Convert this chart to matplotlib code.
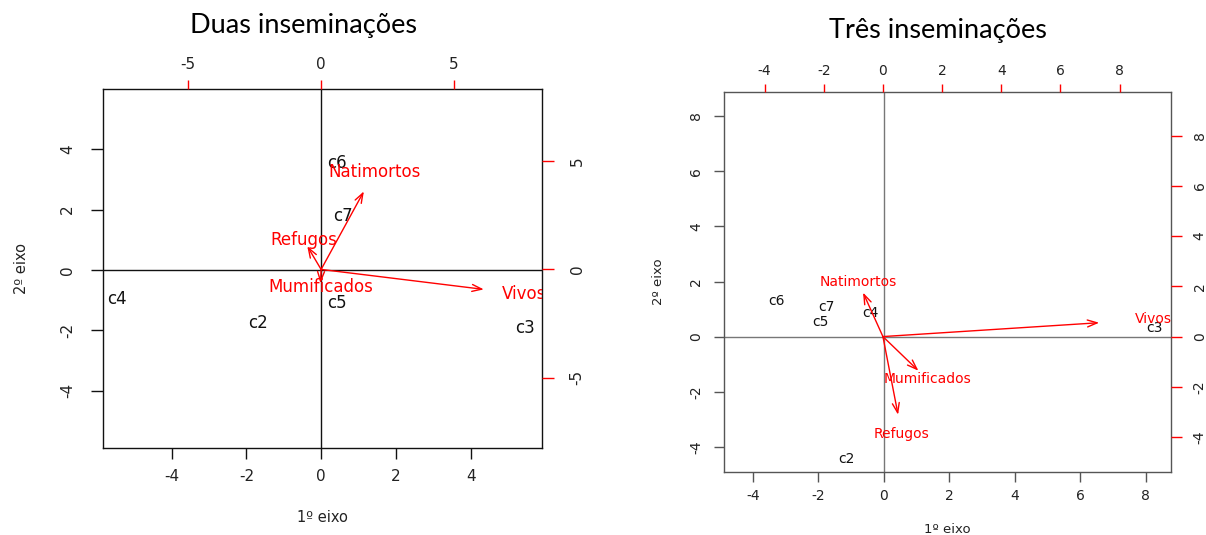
import matplotlib
matplotlib.use("Agg")
import matplotlib.pyplot as plt
import numpy as np

plt.rcParams['axes.unicode_minus'] = False

# ---------------- data ----------------
# Panel 1: Duas inseminações
p1_cases = ['c2', 'c3', 'c4', 'c5', 'c6', 'c7']
p1_case_x = [-1.69, 5.45, -5.46, 0.41, 0.43, 0.59]
p1_case_y = [-1.74, -1.93, -0.96, -1.08, 3.55, 1.80]
p1_vars = ['Vivos', 'Natimortos', 'Mumificados', 'Refugos']
p1_var_x = [7.65, 2.01, -0.03, -0.65]
p1_var_y = [-1.15, 4.50, -0.80, 1.34]
p1_main_ticks = [-4, -2, 0, 2, 4]
p1_sec_ticks = [-5, 0, 5]

# Panel 2: Três inseminações
p2_cases = ['c2', 'c3', 'c4', 'c5', 'c6', 'c7']
p2_case_x = [-1.13, 8.27, -0.40, -1.94, -3.29, -1.74]
p2_case_y = [-4.44, 0.30, 0.87, 0.54, 1.30, 1.09]
p2_vars = ['Vivos', 'Natimortos', 'Mumificados', 'Refugos']
p2_var_x = [9.14, -0.84, 1.50, 0.64]
p2_var_y = [0.69, 2.19, -1.70, -3.89]
p2_main_ticks = [-4, -2, 0, 2, 4, 6, 8]
p2_sec_ticks = [-4, -2, 0, 2, 4, 6, 8]

titles = ['Duas inseminações', 'Três inseminações']
xlabel = '1º eixo'
ylabel = '2º eixo'

ARROW_FRAC = 0.8  # biplot draws arrows to 0.8 of the variable position

W, H = 1206, 535
fig = plt.figure(figsize=(W / 100, H / 100), dpi=100)
RED = '#ff0000'


def px_rect(l, r, t, b):
    return [l / W, 1 - b / H, (r - l) / W, (b - t) / H]


def panel(rect, xlim, ylim, slim, main_ticks, sec_ticks, cases, cx, cy,
          vars_, vx, vy, title, title_xy, fs_tick, fs_text, fs_var, frame_col,
          origin_col, pads, tlens, xlab_y, ylab_x, fs_lab):
    ax = fig.add_axes(rect)
    ax.set_xlim(*xlim)
    ax.set_ylim(*ylim)
    ax.set_xticks(main_ticks)
    ax.set_yticks(main_ticks)
    for s in ax.spines.values():
        s.set_color(frame_col)
        s.set_linewidth(1.0)
    ax.tick_params(axis='x', direction='out', length=tlens[0], width=1.0,
                   color=frame_col, labelsize=fs_tick, pad=pads[0],
                   labelcolor='#222222')
    ax.tick_params(axis='y', direction='out', length=tlens[1], width=1.0,
                   color=frame_col, labelsize=fs_tick, pad=pads[1],
                   labelcolor='#222222')
    for lab in ax.get_yticklabels():
        lab.set_rotation(90)
        lab.set_va('center')
    ax.axhline(0, color=origin_col, lw=1.0)
    ax.axvline(0, color=origin_col, lw=1.0)
    for name, x, y in zip(cases, cx, cy):
        ax.text(x, y, name, ha='center', va='center', fontsize=fs_text,
                color='#111111', clip_on=True)
    ax.set_xlabel(xlabel, fontsize=fs_lab, color='#222222', va='center')
    ax.xaxis.set_label_coords(0.5, xlab_y)
    ax.set_ylabel(ylabel, fontsize=fs_lab, color='#222222', va='center')
    ax.yaxis.set_label_coords(ylab_x, 0.5)
    ax.set_title(title, fontsize=19.5, family='Lato', x=title_xy[0],
                 y=title_xy[1], va='center', pad=0)

    ax2 = fig.add_axes(rect, frameon=False)
    ax2.set_xlim(*slim)
    ax2.set_ylim(*slim)
    ax2.xaxis.tick_top()
    ax2.yaxis.tick_right()
    ax2.set_xticks(sec_ticks)
    ax2.set_yticks(sec_ticks)
    ax2.tick_params(axis='x', direction='out', length=tlens[2], width=1.0,
                    color=RED, labelsize=fs_tick, pad=pads[2],
                    labelcolor='#222222')
    ax2.tick_params(axis='y', direction='out', length=tlens[3], width=1.0,
                    color=RED, labelsize=fs_tick, pad=pads[3],
                    labelcolor='#222222')
    for lab in ax2.get_yticklabels():
        lab.set_rotation(90)
        lab.set_va('center')
    for name, x, y in zip(vars_, vx, vy):
        ax2.annotate('', xy=(x * ARROW_FRAC, y * ARROW_FRAC), xytext=(0, 0),
                     arrowprops=dict(arrowstyle='->,head_length=0.7,head_width=0.25',
                                     color=RED, lw=1.0, shrinkA=0, shrinkB=0))
        ax2.text(x, y, name, ha='center', va='center', fontsize=fs_var,
                 color=RED, clip_on=True)
    return ax, ax2


# Panel 1
panel(px_rect(102.6, 542.3, 89, 447.7), (-5.85, 5.92), (-5.88, 5.99),
      (-8.22, 8.32), p1_main_ticks, p1_sec_ticks, p1_cases, p1_case_x,
      p1_case_y, p1_vars, p1_var_x, p1_var_y, titles[0], (0.456, 1.178),
      fs_tick=11, fs_text=12, fs_var=12, frame_col='#111111',
      origin_col='#111111', pads=(7.5, 11.5, 6, 11), tlens=(7.7, 8.3, 6.5, 8.6),
      xlab_y=-0.195, ylab_x=-0.184, fs_lab=10.5)

# Panel 2
panel(px_rect(723.8, 1171.3, 91.7, 471.7), (-4.89, 8.78), (-4.89, 8.88),
      (-5.38, 9.75), p2_main_ticks, p2_sec_ticks, p2_cases, p2_case_x,
      p2_case_y, p2_vars, p2_var_x, p2_var_y, titles[1],
      ((937.5 - 723.8) / 447.5, (471.7 - 30) / 380),
      fs_tick=10, fs_text=10, fs_var=10, frame_col='#555555',
      origin_col='#777777', pads=(5, 7.8, 4, 7.8), tlens=(7.2, 7.2, 6, 7.6),
      xlab_y=-0.153, ylab_x=-0.147, fs_lab=9.5)

fig.savefig('out.png', dpi=100)
